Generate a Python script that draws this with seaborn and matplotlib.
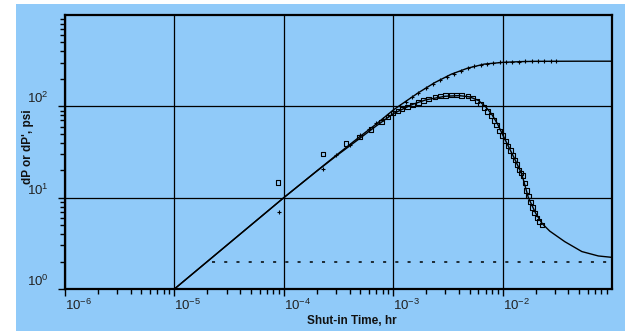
import numpy as np
import pandas as pd
import matplotlib
matplotlib.use("Agg")
import matplotlib.pyplot as plt
import matplotlib.ticker as mticker
from matplotlib.patches import Rectangle
import seaborn as sns

# ---------------- data ----------------
p_model_t = [1e-5, 2e-5, 5e-5, 1e-4, 2e-4, 3e-4, 5e-4, 7e-4, 1e-3, 1.2e-3, 1.7e-3,
             2.4e-3, 3.4e-3, 4.8e-3, 6.8e-3, 1e-2, 1.5e-2, 2e-2, 5e-2, 1e-1]
p_model_v = [1.0, 2.0, 5.0, 10.0, 19.6, 29.0, 47.0, 64.0, 91.0, 106.0, 141.0,
             182.0, 225.0, 262.0, 290.0, 303.0, 309.0, 311.0, 312.0, 312.0]

d_model_t = [1e-5, 2e-5, 5e-5, 1e-4, 2e-4, 3e-4, 5e-4, 7e-4, 1e-3, 1.5e-3, 2e-3,
             3e-3, 4e-3, 5e-3, 6e-3, 7e-3, 8e-3, 9e-3, 1e-2, 1.15e-2, 1.3e-2,
             1.5e-2, 1.72e-2, 2e-2, 2.3e-2, 2.7e-2, 3.7e-2, 5.3e-2, 7.5e-2, 1e-1]
d_model_v = [1.0, 2.0, 5.0, 10.0, 19.5, 28.5, 45.0, 61.0, 83.0, 105.0, 118.0,
             129.0, 131.0, 127.0, 116.0, 99.0, 81.0, 64.0, 49.0, 35.0, 26.0,
             18.0, 10.0, 6.8, 5.2, 4.3, 3.3, 2.57, 2.3, 2.22]

sq_t = [8.9e-5, 2.28e-4, 3.7e-4, 4.9e-4, 6.3e-4, 7.8e-4, 9.0e-4, 1.0e-3, 1.1e-3,
        1.2e-3, 1.35e-3, 1.5e-3, 1.7e-3, 1.9e-3, 2.1e-3, 2.4e-3, 2.7e-3, 3.0e-3,
        3.4e-3, 3.8e-3, 4.2e-3, 4.8e-3, 5.3e-3, 5.8e-3, 6.3e-3, 6.8e-3, 7.3e-3,
        7.8e-3, 8.3e-3, 8.8e-3, 9.4e-3, 1.0e-2, 1.06e-2, 1.12e-2, 1.18e-2,
        1.24e-2, 1.3e-2, 1.36e-2, 1.42e-2, 1.48e-2, 1.54e-2, 1.6e-2, 1.66e-2,
        1.72e-2, 1.8e-2, 1.88e-2, 1.96e-2, 2.05e-2, 2.15e-2, 2.28e-2]
sq_v = [14.7, 29.9, 39.0, 46.0, 56.0, 67.0, 76.0, 84.0, 89.0,
        93.0, 98.0, 103.0, 110.0, 116.0, 121.0, 126.0, 129.0, 132.0,
        133.0, 133.0, 132.0, 129.0, 123.0, 115.0, 106.0, 97.0, 88.0,
        79.0, 70.0, 62.0, 54.0, 48.0, 42.0, 37.0, 33.0,
        29.0, 26.0, 23.0, 20.0, 18.5, 17.5, 14.5, 12.0,
        10.5, 9.0, 7.8, 6.8, 6.0, 5.5, 5.0]

cr_t = [9.0e-5, 2.28e-4, 3.0e-4, 4.0e-4, 5.0e-4, 6.0e-4, 7.0e-4, 8.0e-4, 9.0e-4,
        1.0e-3, 1.15e-3, 1.3e-3, 1.5e-3, 1.7e-3, 2.0e-3, 2.3e-3, 2.7e-3, 3.1e-3,
        3.6e-3, 4.2e-3, 4.8e-3, 5.5e-3, 6.3e-3, 7.2e-3, 8.2e-3, 9.4e-3, 1.07e-2,
        1.22e-2, 1.4e-2, 1.6e-2, 1.85e-2, 2.1e-2, 2.4e-2, 2.75e-2, 3.1e-2]
cr_v = [7.0, 20.8, 29.0, 38.0, 48.0, 57.0, 65.0, 73.0, 81.0,
        89.0, 100.0, 112.0, 127.0, 141.0, 158.0, 174.0, 193.0, 210.0,
        228.0, 246.0, 261.0, 274.0, 285.0, 293.0, 299.0, 303.0, 306.0,
        308.0, 309.0, 310.0, 311.0, 311.0, 312.0, 312.0, 312.0]

ref_t = [2.2e-5, 1e-1]
ref_v = [2.0, 2.0]

x_ticks = [1e-6, 1e-5, 1e-4, 1e-3, 1e-2]
x_labels = ["10$^{-6}$", "10$^{-5}$", "10$^{-4}$", "10$^{-3}$", "10$^{-2}$"]
y_ticks = [1, 10, 100]
y_labels = ["10$^{0}$", "10$^{1}$", "10$^{2}$"]

# ---------------- style ----------------
BG = "#90CAF9"
sns.set_theme(style="ticks")
plt.rcParams["font.family"] = ["Liberation Sans", "DejaVu Sans"]
plt.rcParams["mathtext.fontset"] = "custom"
plt.rcParams["mathtext.rm"] = "Liberation Sans"
plt.rcParams["mathtext.it"] = "Liberation Sans:italic"
plt.rcParams["mathtext.bf"] = "Liberation Sans:bold"

fig = plt.figure(figsize=(6.27, 3.31), dpi=100, facecolor="white")
bg_rect = Rectangle((16 / 627, 0), (625 - 16) / 627, (331 - 4) / 331,
                    transform=fig.transFigure, facecolor=BG,
                    edgecolor="none", zorder=-10)
fig.add_artist(bg_rect)
ax = fig.add_axes([65 / 627, 1 - 289 / 331, (612 - 65) / 627, (289 - 15) / 331])
ax.set_zorder(1)
ax.set_facecolor(BG)

pm = pd.DataFrame({"t": p_model_t, "v": p_model_v})
dm = pd.DataFrame({"t": d_model_t, "v": d_model_v})
sq = pd.DataFrame({"t": sq_t, "v": sq_v})
cr = pd.DataFrame({"t": cr_t, "v": cr_v})
rf = pd.DataFrame({"t": ref_t, "v": ref_v})

ax.set_xscale("log")
ax.set_yscale("log")

sns.lineplot(data=pm, x="t", y="v", ax=ax, color="black", lw=1.0,
             estimator=None, sort=False, zorder=3)
sns.lineplot(data=dm, x="t", y="v", ax=ax, color="black", lw=1.0,
             estimator=None, sort=False, zorder=3)
sns.lineplot(data=rf, x="t", y="v", ax=ax, color="black", lw=1.1,
             estimator=None, sort=False, zorder=3, linestyle=(0, (2, 6)))
sns.scatterplot(data=sq, x="t", y="v", ax=ax, marker="s", s=10,
                facecolor="none", edgecolor="black", linewidth=0.8, zorder=4)
sns.scatterplot(data=cr, x="t", y="v", ax=ax, marker="+", s=10,
                color="black", linewidth=0.8, zorder=4)

ax.set_xlim(1e-6, 1e-1)
ax.set_ylim(1, 1000)

ax.grid(True, which="major", color="black", lw=0.9)
ax.grid(False, which="minor")
for s in ax.spines.values():
    s.set_color("black")
    s.set_linewidth(1.6)

ax.xaxis.set_major_locator(mticker.FixedLocator(x_ticks))
ax.xaxis.set_major_formatter(mticker.FixedFormatter(x_labels))
ax.yaxis.set_major_locator(mticker.FixedLocator(y_ticks))
ax.yaxis.set_major_formatter(mticker.FixedFormatter(y_labels))
ax.xaxis.set_minor_locator(mticker.LogLocator(base=10, subs=np.arange(2, 10), numticks=20))
ax.yaxis.set_minor_locator(mticker.LogLocator(base=10, subs=np.arange(2, 10), numticks=20))
ax.xaxis.set_minor_formatter(mticker.NullFormatter())
ax.yaxis.set_minor_formatter(mticker.NullFormatter())

ax.tick_params(which="both", direction="out", color="black", width=1.0)
ax.tick_params(which="major", length=5, labelsize=9.5, labelcolor="#222222")
ax.tick_params(which="minor", length=3.5)
ax.tick_params(axis="x", which="major", pad=1)
ax.tick_params(axis="y", which="major", pad=7)
for lab in ax.get_xticklabels():
    lab.set_ha("left")
for lab in ax.get_yticklabels():
    lab.set_va("bottom")

ax.set_xlabel("Shut-in Time, hr", fontsize=8.5, fontweight="bold", color="#111111")
ax.set_ylabel("dP or dP', psi", fontsize=8.5, fontweight="bold", color="#111111")
ax.xaxis.set_label_coords(0.525, -0.095)
ax.yaxis.set_label_coords(-0.056, 0.52)

fig.savefig("out.png", dpi=100, facecolor="white")
